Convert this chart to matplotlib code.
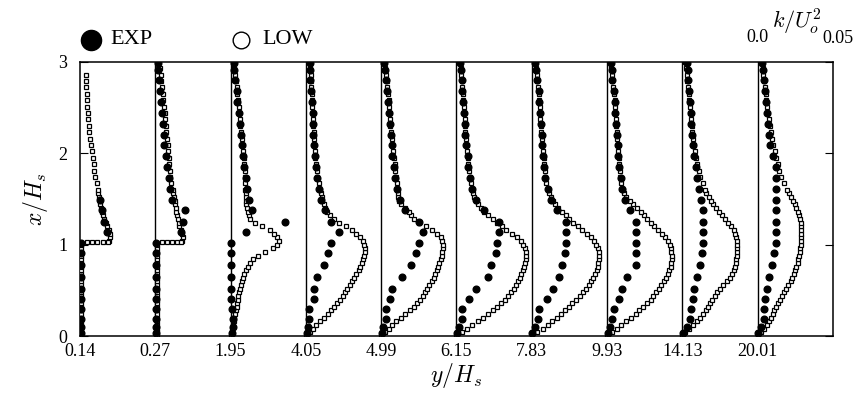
import numpy as np
import matplotlib.pyplot as plt

plt.rcParams['font.family'] = ['Liberation Serif', 'DejaVu Serif']
plt.rcParams['mathtext.fontset'] = 'cm'

nan = np.nan

# stations y/H_s, each panel is 0.05 wide in k/U_o^2
stations = ['0.14', '0.27', '1.95', '4.05', '4.99', '6.15', '7.83', '9.93', '14.13', '20.01']
k_span = 0.05

# LOW model: x/H_s levels and k/U_o^2 (x 1e-3) per station
low_xh = [0.00, 0.04, 0.08, 0.12, 0.16, 0.20, 0.24, 0.28, 0.32, 0.36,
          0.40, 0.44, 0.48, 0.52, 0.56, 0.60, 0.64, 0.68, 0.72, 0.76,
          0.80, 0.84, 0.88, 0.92, 0.96, 1.00, 1.04, 1.08, 1.12, 1.16,
          1.20, 1.24, 1.28, 1.32, 1.36, 1.40, 1.44, 1.48, 1.52, 1.56,
          1.60, 1.67, 1.74, 1.81, 1.88, 1.95, 2.02, 2.09, 2.16, 2.23,
          2.30, 2.37, 2.44, 2.51, 2.58, 2.65, 2.72, 2.79, 2.86, 2.93, 3.00]
low_k = [
    [1, 1, 1, 1, 1, 1, 1, 1, 1, 1,
     1, 1, 1, 1, 1, 1, 1, 1, 1, 1,
     1, 1, 1, 1, 1, 1, 19.5, 20, 20, 19,
     18, 17, 16, 15.5, 14.5, 14, 13.5, 13, 12.5, 12,
     12, 11, 10.3, 9.6, 9, 8.4, 7.8, 7.3, 6.8, 6.3,
     5.9, 5.5, 5.2, 4.9, 4.6, 4.4, 4.2, 4, 3.8, nan, nan],
    [1, 1, 1, 1, 1, 1, 1, 1, 1, 1,
     1, 1, 1, 1, 1, 1, 1, 1, 1, 1,
     1, 1, 1, 1, 1, 1, 18, 18.5, 18, 17,
     16, 15.5, 15, 14.5, 14, 13.5, 13.2, 13, 12.5, 12,
     11.5, 10.5, 10, 9.5, 9.2, 9, 8.6, 8.2, 7.8, 7.4,
     7, 6.6, 6.2, 5.8, 5.4, 5, 4.5, 4, 3.5, 3, nan],
    [0.3, 0.8, 1, 1.5, 2, 2.5, 3, 3.5, 4, 4.4,
     4.8, 5.2, 5.7, 6.3, 6.8, 7.5, 8.2, 9, 10, 11.5,
     13, 15, 18, 23, 28, 31, 32, 31, 29, 26.5,
     21, 16, 13, 12, 11.3, 10.8, 10.5, 10.3, 10.1, 10,
     9.9, 9.7, 9.5, 9.3, 9.1, 8.8, 8.5, 8, 7.5, 7,
     6.6, 6.2, 5.7, 5.3, 4.9, 4.5, 4, 3.5, 3, 2.5, 2],
    [0, 2.5, 4.5, 7, 9.5, 12, 14.5, 16.5, 19, 21,
     22.5, 24.5, 26, 27.5, 29, 30.5, 32, 33.5, 35, 36,
     37, 38, 38.5, 39, 39, 38.7, 37.7, 36, 33.5, 30.5,
     26.5, 22, 18.5, 16, 14, 12.5, 11.8, 11, 10.5, 10,
     9.3, 8.5, 7.7, 7.1, 6.6, 6.2, 5.9, 5.6, 5.3, 5.1,
     4.9, 4.7, 4.5, 4.3, 4.1, 3.8, 3.5, 3.3, 3.2, 3, 3],
    [0, 2.5, 5, 7.5, 10, 13, 16, 19, 21.5, 23.5,
     25.5, 27.5, 29, 30.5, 32, 33.5, 35, 36, 37, 38,
     38.7, 39.5, 40.2, 40.7, 41, 41, 40.7, 40, 37, 34,
     29.5, 25, 22, 20, 18.5, 16, 13.5, 12, 11.5, 11,
     10.7, 10.3, 10, 9.5, 9, 8.5, 8, 7.5, 7, 6.6,
     6.2, 5.9, 5.6, 5.2, 4.9, 4.5, 4.1, 3.7, 3.2, 2.6, 2.2],
    [0, 3.5, 7, 10.5, 14, 17.5, 21, 24, 27, 29.5,
     32, 34, 36, 38, 39.5, 41, 42, 43.2, 44.2, 45,
     45.7, 46.2, 46.4, 46.2, 45.5, 44.5, 43, 40.5, 37, 33,
     30, 27, 24, 21, 18.5, 16, 14, 12.7, 11.8, 11,
     10.4, 9.7, 9, 8.5, 8, 7.6, 7.2, 6.8, 6.4, 6,
     5.7, 5.4, 5.1, 4.8, 4.5, 4.2, 3.9, 3.6, 3.2, 2.8, 2.5],
    [0, 3.5, 7.5, 10.5, 13.5, 16.5, 19.5, 22, 24.5, 27,
     29.5, 32, 34, 36, 38, 39.5, 41, 42.3, 43.2, 43.8,
     44.2, 44.5, 44.6, 44.5, 44, 43, 41.5, 39.5, 36.5, 33.5,
     30.5, 27.5, 25, 22.5, 20, 17.5, 15.5, 14, 12.5, 11.3,
     10.5, 9.6, 9, 8.6, 8.2, 7.9, 7.5, 7.1, 6.7, 6.4,
     6.1, 5.8, 5.5, 5.2, 4.9, 4.6, 4.2, 3.7, 3.2, 2.6, 2],
    [0, 3, 6.5, 9.5, 12.5, 16, 19, 21.5, 24, 26.5,
     29, 30.5, 32.5, 34.5, 36, 37.5, 39, 40.2, 41.3, 42.2,
     42.8, 43, 43, 42.8, 42.3, 41.5, 40.5, 38.5, 36.5, 34,
     31.5, 29, 26.5, 24.5, 22.5, 20, 17.5, 15, 12.5, 11.3,
     10.5, 9.5, 8.9, 8.4, 8, 7.7, 7.4, 7.1, 6.8, 6.5,
     6.2, 5.9, 5.6, 5.3, 5, 4.6, 4.1, 3.6, 3.1, 2.5, 2],
    [0, 2, 4.5, 7, 9.5, 11.5, 13.5, 15.5, 17, 18.5,
     20, 21.5, 23, 25, 27, 29.5, 31.5, 33, 34, 35,
     35.5, 35.8, 36, 36, 36, 36, 36, 35.7, 35.2, 34,
     32.5, 30.5, 28.5, 26.5, 24.5, 22.5, 20.5, 19, 17.5, 16,
     15, 13.5, 12, 11, 10, 9, 8.3, 7.7, 7.1, 6.6,
     6.1, 5.7, 5.3, 4.9, 4.5, 4.2, 3.8, 3.4, 3, 2.5, 2],
    [0, 2, 4.5, 6, 7.5, 9, 10, 11, 12, 13.5,
     15, 16.3, 17.5, 19, 20.5, 22, 23, 24, 25, 25.8,
     26.5, 27, 27.5, 28, 28.3, 28.6, 28.8, 29, 29, 29,
     29, 28.8, 28.3, 27.5, 26.5, 25.5, 24.5, 23.3, 22, 20.7,
     19.5, 17.5, 15.7, 14.3, 13.2, 12.2, 11.3, 10.5, 9.7, 9,
     8.3, 7.6, 6.9, 6.3, 5.8, 5.3, 4.8, 4.3, 3.8, 3.3, 3],
]
# horizontal jump of LOW at the step top (first two stations)
step_xh = 1.03
step_k = [
    [4.6, 8, 11, 15, 18.5],
    [4.6, 8, 11, 14.5, 17],
]

# EXP data
exp_xh = [0.03, 0.10, 0.19, 0.30, 0.41, 0.52, 0.65, 0.78, 0.91,
          1.02, 1.14, 1.25, 1.38, 1.49, 1.61, 1.73, 1.85, 1.97,
          2.09, 2.20, 2.32, 2.44, 2.56, 2.68, 2.80, 2.91, 2.99]
exp_k = [
    [0.5, 0.5, 0.5, 0.5, 0.5, 0.5, 0.5, 0.5, 0.5,
     0.5, 18, 16, 14.5, 13.5, nan, nan, nan, nan,
     nan, nan, nan, nan, nan, nan, nan, nan, nan],
    [0.5, 0.5, 0.5, 0.5, 0.5, 0.5, 0.5, 0.5, 0.5,
     0.5, 17, 18.5, 20, 11, 10, 9, 8, 7,
     6, 5.5, 5, 4.5, 3.5, 3, 2.5, 2, 2],
    [1, 1.5, 1.5, 1, 0.5, 0.5, 0.5, 0.5, 0.5,
     0.5, 10, 36, 14, 12, 11, 10, 9, 8,
     7.5, 7, 6, 5.5, 4.5, 4, 3, 2.5, 2],
    [1, 1.5, 2, 2.2, 5.3, 5.3, 7.3, 12, 15,
     17, 22, 17, 13, 10, 8.5, 7.5, 6.5, 6,
     5.5, 5, 4.5, 4.5, 4, 3.5, 3, 3, 2.5],
    [0.5, 1.5, 3, 3, 6, 7.3, 14, 20, 23,
     25, 28, 25, 16, 12.5, 10.5, 9.5, 8.5, 7.5,
     7, 6.5, 6, 5, 4.5, 4, 3.5, 2.5, 2],
    [0.5, 2, 4, 4, 8.6, 13, 21, 23, 26,
     27, 28, 28.5, 18, 13, 10.5, 9, 8, 7.5,
     6.5, 6, 5.5, 5, 4.5, 4, 3.5, 3, 2.5],
    [0.5, 2, 4, 5, 10, 14, 18, 20, 22,
     23, 23, 23, 17, 13, 10.5, 9, 8, 7.5,
     7, 6.5, 6, 5.5, 5, 4.5, 3.5, 3, 2.5],
    [0.5, 2, 3, 4.4, 8, 10, 13, 19, 19,
     19, 19, 19, 15, 12, 10, 9, 8, 7.5,
     7, 6.5, 6, 5.5, 5, 4.5, 3.5, 3, 2.5],
    [0.5, 3, 5, 6, 7, 8, 10, 12, 13.3,
     14, 14, 14, 14, 12.5, 11, 10, 9, 8,
     7, 6.5, 6, 5.5, 5, 4.5, 4, 3.5, 3],
    [0.5, 2, 4, 4, 5, 6.5, 7.5, 9.5, 11,
     12, 12, 12, 12, 12, 12, 12, 12, 10,
     8.5, 7.5, 7, 6, 5.5, 5, 4, 3.5, 3],
]

fig = plt.figure(figsize=(8.57, 3.94), dpi=100)
ax = fig.add_axes([0.0933, 0.147, 0.8786, 0.696])

low_style = dict(marker='s', ms=3.0, mfc='white', mec='black', mew=0.9, ls='none', zorder=3)

for i in range(len(stations)):
    if i > 0:
        ax.plot([i, i], [0, 3], color='black', lw=1.0)
    lk = np.array(low_k[i]) * 1e-3
    ax.plot(i + lk / k_span, low_xh, **low_style)
    if i < len(step_k):
        sk = np.array(step_k[i]) * 1e-3
        ax.plot(i + sk / k_span, [step_xh] * len(sk), **low_style)
    ek = np.array(exp_k[i]) * 1e-3
    ax.plot(i + ek / k_span, exp_xh, 'o', ms=4.8, color='black', ls='none', zorder=4)

ax.set_xlim(0, 10)
ax.set_ylim(0, 3)
ax.set_xticks(range(len(stations)))
ax.set_xticklabels(stations)
ax.set_yticks([0, 1, 2, 3])
ax.tick_params(axis='x', length=0, pad=5, labelsize=13)
ax.tick_params(axis='y', direction='in', length=6, right=True, pad=9, labelsize=13)
for s in ax.spines.values():
    s.set_linewidth(1.1)

ax.set_xlabel('$y/H_s$', fontsize=17, labelpad=1)
ax.set_ylabel('$x/H_s$', fontsize=17, labelpad=6)

# legend drawn by hand above the frame
ax.plot([0.0146], [1.08], 'o', ms=14.5, color='black', transform=ax.transAxes, clip_on=False)
ax.text(0.0398, 1.08, 'EXP', fontsize=16, va='center', transform=ax.transAxes)
ax.plot([0.2138], [1.08], 'o', ms=12, mfc='white', mec='black', mew=1.0,
        transform=ax.transAxes, clip_on=False)
ax.text(0.2417, 1.08, 'LOW', fontsize=16, va='center', transform=ax.transAxes)

# scale for k/U_o^2 over the last panel
ax.text(9, 3.22, '0.0', fontsize=13, ha='center', va='baseline')
ax.text(10.07, 3.21, '0.05', fontsize=13, ha='center', va='baseline')
ax.text(9.19, 3.37, '$k/U_o^2$', fontsize=16, ha='left', va='baseline')

fig.savefig('out.png', dpi=100)
